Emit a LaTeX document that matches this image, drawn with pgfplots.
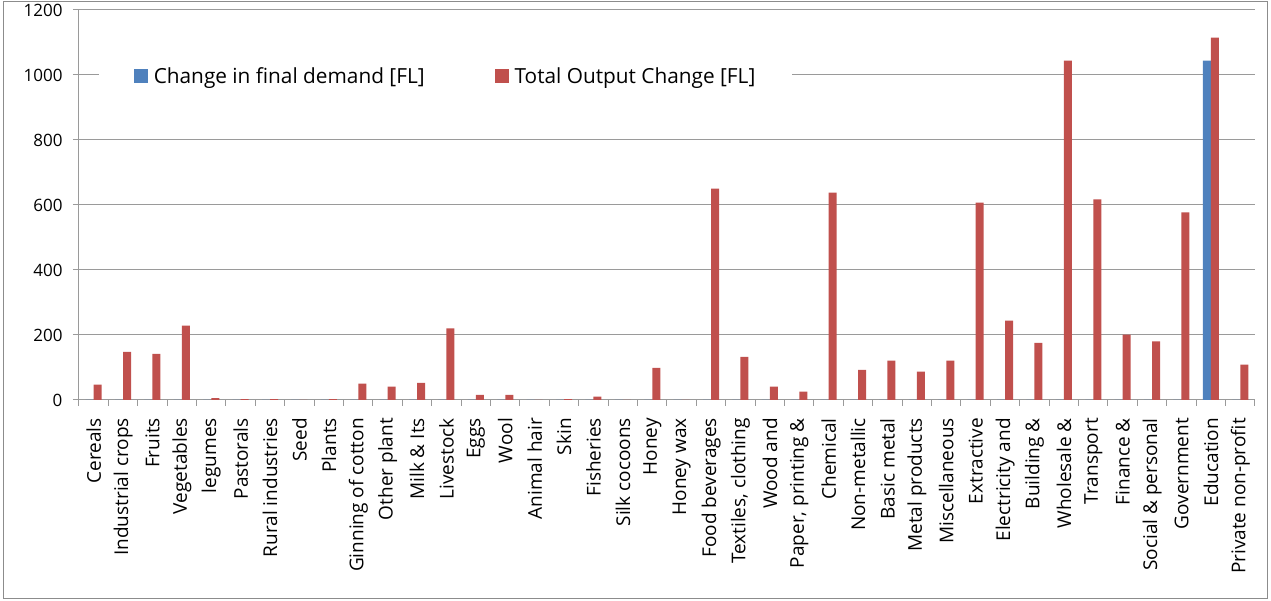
\documentclass[border=0pt]{standalone}
\usepackage{pgfplots}
\pgfplotsset{compat=1.18}
\usepackage{fontspec}
\setmainfont{Open Sans}
\definecolor{barblue}{HTML}{4F81BD}
\definecolor{barred}{HTML}{C0504D}
\definecolor{gridgray}{HTML}{9A9A9A}
\definecolor{framegray}{HTML}{8C8C8C}
\begin{document}
\begin{tikzpicture}[x=1pt,y=1pt]
\useasboundingbox (-79,-201) rectangle (1192,400);
\draw[framegray, line width=1pt] (-75,398) rectangle (1188,-199);
\begin{axis}[
  at={(0,0)}, anchor=south west,
  scale only axis, width=1176pt, height=390pt,
  xmin=-0.5, xmax=39.5, ymin=0, ymax=1200,
  ytick={0,200,...,1200},
  ymajorgrids, grid style={gridgray, line width=1pt},
  axis x line*=bottom, axis y line*=left,
  axis line style={gridgray, line width=1pt},
  tick align=outside,
  major tick length=6pt, minor tick length=6pt,
  y tick style={gridgray, line width=1pt},
  major x tick style={draw=none},
  minor x tick style={gridgray, line width=1pt},
  xtick={0,...,39},
  minor xtick={-0.5,0.5,...,39.5},
  xticklabels={Cereals, Industrial crops, Fruits, Vegetables, legumes, Pastorals, Rural industries, Seed, Plants, Ginning of cotton, Other plant, Milk \& Its, Livestock, Eggs, Wool, Animal hair, Skin, Fisheries, Silk cocoons, Honey, Honey wax, Food beverages, {Textiles, clothing}, Wood and, {Paper, printing \&}, Chemical, Non-metallic, Basic metal, Metal products, Miscellaneous, Extractive, Electricity and, Building \&, Wholesale \&, Transport, Finance \&, Social \& personal, Government, Education, Private non-profit},
  x tick label style={rotate=90, anchor=east, font=\fontsize{19}{22}\selectfont, inner sep=0pt},
  xticklabel shift=12pt,
  xtick pos=bottom,
  y tick label style={font=\fontsize{17}{20}\selectfont},
  yticklabel shift=7pt,
  /pgf/number format/assume math mode=true,
  /pgf/number format/1000 sep={},
  scaled y ticks=false,
  ybar=0pt, bar width=8pt,
  legend columns=2,
  legend style={at={(0.3117,0.8308)}, anchor=center, draw=none, fill=white,
    inner xsep=35pt, inner ysep=14pt,
    font=\fontsize{20.8}{24}\selectfont,
    /tikz/every odd column/.style={column sep=4pt},
    /tikz/column 2/.style={column sep=68pt}},
]
\addplot[fill=barblue, draw=none,
  legend image code/.code={\fill[barblue] (0pt,-7pt) rectangle (14pt,7pt);}]
coordinates {
(0,0) (1,0) (2,0) (3,0) (4,0) (5,0) (6,0) (7,0) (8,0) (9,0)
(10,0) (11,0) (12,0) (13,0) (14,0) (15,0) (16,0) (17,0) (18,0) (19,0)
(20,0) (21,0) (22,0) (23,0) (24,0) (25,0) (26,0) (27,0) (28,0) (29,0)
(30,0) (31,0) (32,0) (33,0) (34,0) (35,0) (36,0) (37,0) (38,1044) (39,0)
};
\addlegendentry{Change in final demand [FL]}
\addplot[fill=barred, draw=none,
  legend image code/.code={\fill[barred] (0pt,-7pt) rectangle (14pt,7pt);}]
coordinates {
(0,47) (1,148) (2,142) (3,229) (4,6) (5,3) (6,3) (7,0) (8,3) (9,50)
(10,41) (11,53) (12,220) (13,16) (14,16) (15,0) (16,3) (17,10) (18,0) (19,99)
(20,0) (21,650) (22,133) (23,41) (24,26) (25,638) (26,93) (27,121) (28,87) (29,121)
(30,607) (31,244) (32,176) (33,1044) (34,617) (35,201) (36,180) (37,577) (38,1115) (39,109)
};
\addlegendentry{Total Output Change [FL]}
\end{axis}
\end{tikzpicture}
\end{document}
